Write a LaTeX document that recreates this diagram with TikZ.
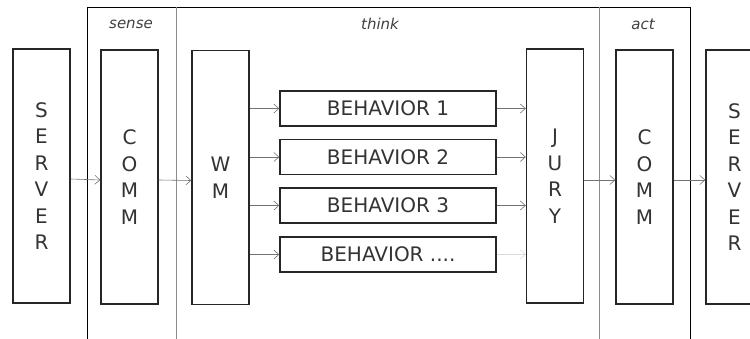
\documentclass[tikz,border=0pt]{standalone}
\usepackage{fontspec}
\setmainfont{DejaVu Sans}
\usetikzlibrary{arrows.meta}

\begin{document}
\begin{tikzpicture}[x=1pt,y=-1pt,
    caja/.style={draw=black!85,line width=1.4pt,inner sep=0pt,
        font=\fontsize{20}{26.5}\selectfont,text=black!80,align=center},
    columna/.style={caja,minimum width=57pt,minimum height=254pt},
    conducta/.style={caja,minimum width=216pt,minimum height=35pt},
    flecha/.style={draw=black!55,line width=0.6pt,
        -{Straight Barb[length=5pt,width=9pt]}},
    etapa/.style={font=\fontsize{15}{18}\selectfont\itshape,text=black!75}]
    \useasboundingbox (0,0) rectangle (750,339);

    % Marco y divisiones
    \draw[line width=0.9pt] (87,339) -- (87,7) -- (690,7) -- (690,339);
    \draw[black!45,line width=0.8pt] (176,7) -- (176,339);
    \draw[black!45,line width=0.8pt] (599,7) -- (599,339);

    % Etapas
    \node[etapa] (sense) at (131,24) {sense};
    \node[etapa] (think) at (380,24) {think};
    \node[etapa] (act) at (643,24) {act};

    % Columnas
    \node[columna] (server1) at (41.5,176) {S\\E\\R\\V\\E\\R};
    \node[columna] (comm1) at (129.5,177) {C\\O\\M\\M};
    \node[columna] (wm) at (220.5,177.5) {W\\M};
    \node[columna] (jury) at (555,176) {J\\U\\R\\Y};
    \node[columna] (comm2) at (644.5,177) {C\\O\\M\\M};
    \node[columna] (server2) at (734.5,177) {S\\E\\R\\V\\E\\R};

    % Conductas
    \node[conducta] (beh1) at (388,108.5) {BEHAVIOR 1};
    \node[conducta] (beh2) at (388,157) {BEHAVIOR 2};
    \node[conducta] (beh3) at (388,205.5) {BEHAVIOR 3};
    \node[conducta] (beh4) at (388,254.5) {BEHAVIOR ....};

    % Flechas
    \draw[flecha] ([yshift=-3pt]server1.east) -- ([yshift=-3pt]comm1.west);
    \draw[flecha] ([yshift=-3pt]comm1.east) -- ([yshift=-3pt]wm.west);
    \foreach \b in {beh1,beh2,beh3,beh4}
        \draw[flecha] (wm.east |- \b.west) -- (\b.west);
    \foreach \b in {beh1,beh2,beh3}
        \draw[flecha] (\b.east) -- (jury.west |- \b.east);
    \draw[flecha,draw=black!15] (beh4.east) -- (jury.west |- beh4.east);
    \draw[flecha] ([yshift=-4pt]jury.east) -- ([yshift=-3pt]comm2.west);
    \draw[flecha] ([yshift=-3pt]comm2.east) -- ([yshift=-3pt]server2.west);
\end{tikzpicture}
\end{document}
